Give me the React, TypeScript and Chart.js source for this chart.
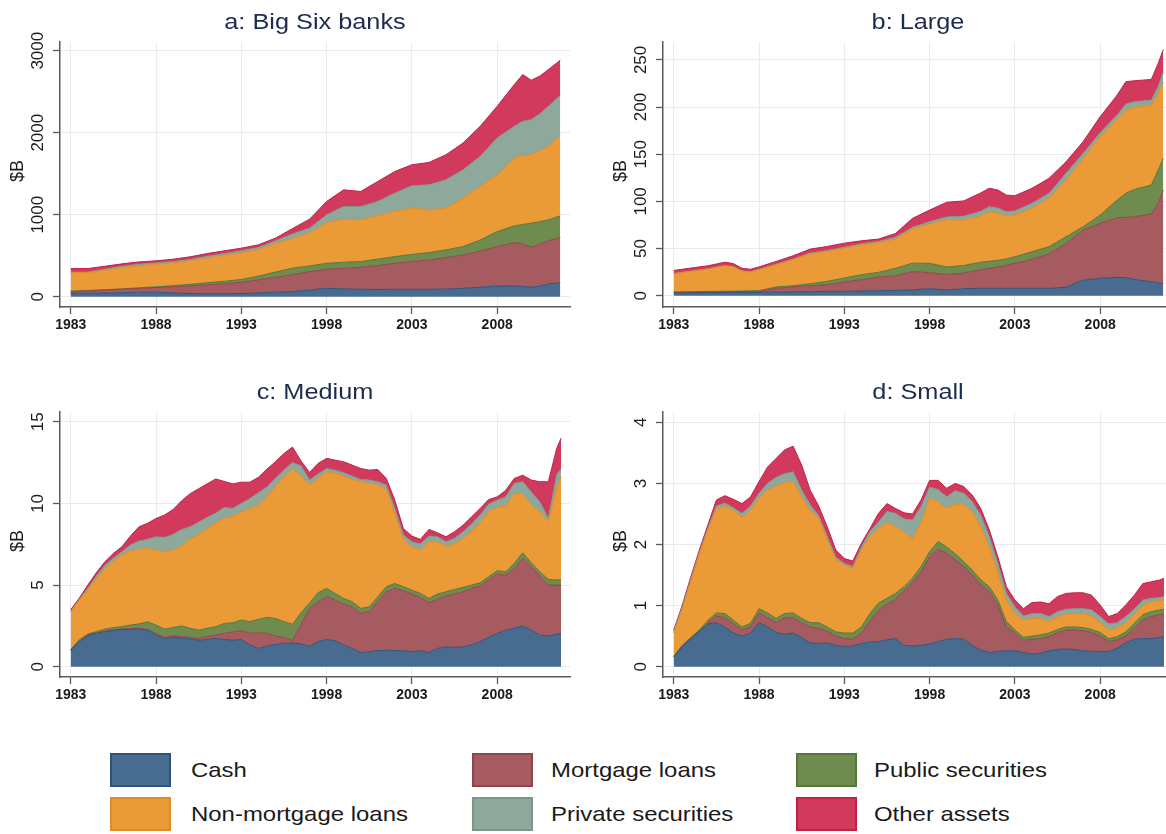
import React, { useEffect, useRef } from "react";
import { Chart, registerables } from "chart.js";

Chart.register(...registerables);

// ---------- shared ----------
const seriesNames = [
  "Cash",
  "Mortgage loans",
  "Public securities",
  "Non-mortgage loans",
  "Private securities",
  "Other assets",
];
const fillColors = ["#476c8f", "#a65b60", "#6f8c4e", "#eb9a38", "#8fa89c", "#d13a5d"];
const edgeColors = ["#2f5378", "#93434b", "#587538", "#e28b22", "#7b978a", "#c21f46"];

const xTickYears = [1983, 1988, 1993, 1998, 2003, 2008];
const X_MIN = 1982.37;
const X_MAX = 2012.27;

// All values in $B. Each array is the upper edge of that layer in the stack
// (cash at the bottom, other assets on top).

// ---------- a: Big Six banks ----------
const yearsA = [1983, 1984, 1985, 1986, 1987, 1988, 1989, 1990, 1991, 1992, 1993, 1994, 1995, 1996, 1997, 1998, 1999, 2000, 2001, 2002, 2003, 2004, 2005, 2006, 2007, 2008, 2009, 2009.5, 2010, 2010.5, 2011, 2011.7];
const aCash = [40, 42, 45, 48, 55, 55, 45, 38, 36, 36, 38, 45, 55, 62, 81, 102, 95, 90, 88, 90, 90, 90, 92, 102, 115, 130, 130, 125, 114, 130, 155, 170];
const aMortgage = [62, 70, 80, 90, 100, 112, 120, 130, 145, 160, 175, 205, 235, 268, 305, 334, 345, 358, 380, 407, 428, 448, 475, 509, 555, 611, 660, 640, 603, 640, 684, 720];
const aPublic = [68, 75, 85, 95, 108, 120, 135, 150, 170, 188, 210, 250, 300, 348, 375, 407, 420, 428, 458, 489, 515, 538, 570, 611, 690, 794, 863, 880, 896, 915, 937, 985];
const aNonMortgage = [294, 294, 322, 355, 375, 396, 412, 437, 473, 506, 534, 575, 649, 710, 774, 904, 945, 937, 986, 1039, 1079, 1059, 1079, 1202, 1344, 1487, 1690, 1719, 1731, 1780, 1833, 1963];
const aPrivate = [300, 299, 335, 372, 395, 412, 428, 453, 494, 526, 559, 600, 681, 765, 835, 998, 1100, 1100, 1161, 1263, 1352, 1364, 1426, 1548, 1711, 1935, 2077, 2138, 2159, 2230, 2322, 2452];
const aOther = [343, 343, 371, 400, 424, 437, 457, 486, 526, 559, 592, 632, 714, 830, 945, 1161, 1303, 1283, 1405, 1527, 1609, 1637, 1731, 1874, 2077, 2322, 2586, 2709, 2640, 2690, 2770, 2884];

// ---------- b: Large ----------
const yearsB = [1983, 1984, 1985, 1986, 1986.5, 1987, 1987.5, 1988, 1989, 1990, 1991, 1992, 1993, 1994, 1995, 1996, 1997, 1998, 1999, 2000, 2001, 2001.5, 2002, 2002.5, 2003, 2004, 2005, 2006, 2007, 2008, 2009, 2009.5, 2010, 2011, 2011.4, 2011.7];
const bCash = [2.8, 3.0, 3.2, 3.3, 3.3, 3.4, 3.4, 3.5, 3.9, 4.2, 4.2, 4.6, 4.6, 4.9, 5.3, 5.5, 6.2, 7.4, 6.0, 7.5, 7.8, 7.8, 7.8, 7.8, 7.8, 7.8, 7.8, 9.0, 16.5, 18.4, 19.4, 19.1, 17.3, 14.8, 13.5, 13.0];
const bMortgage = [3.5, 3.8, 4.0, 4.2, 4.3, 4.4, 4.5, 4.6, 7.8, 9.2, 10.6, 11.6, 14.5, 16.9, 19.8, 21.0, 25.5, 24.4, 22.5, 24.0, 27.5, 29.0, 30.5, 32.0, 34.3, 38.5, 44.2, 55.5, 69.6, 76.7, 82.7, 83.0, 83.7, 86.6, 97.9, 112.0];
const bPublic = [3.9, 4.2, 4.5, 4.7, 4.8, 5.0, 5.1, 5.3, 9.2, 10.6, 12.7, 15.2, 18.7, 22.2, 24.7, 29.0, 34.5, 34.3, 30.5, 32.0, 35.5, 36.5, 37.5, 39.0, 41.3, 46.6, 51.9, 62.5, 73.1, 85.5, 101.4, 108.5, 112.7, 117.3, 133.2, 145.6];
const bNonMortgage = [23.3, 25.7, 28.2, 31.7, 30.5, 26.0, 25.0, 27.5, 32.8, 38.1, 44.4, 46.9, 50.4, 54.0, 56.4, 60.0, 71.0, 76.0, 80.5, 80.2, 84.5, 89.0, 87.5, 84.5, 85.5, 92.6, 103.2, 122.6, 145.6, 168.6, 186.9, 196.8, 199.6, 202.1, 214.5, 226.0];
const bPrivate = [23.6, 26.0, 28.5, 32.0, 30.8, 26.4, 25.4, 28.0, 33.4, 38.8, 45.2, 47.8, 51.3, 55.0, 57.5, 62.0, 72.5, 78.4, 83.5, 84.3, 89.5, 94.3, 93.0, 89.0, 89.8, 97.9, 108.5, 129.7, 150.9, 172.8, 191.5, 203.2, 205.7, 207.4, 221.6, 237.5];
const bOther = [26.8, 29.3, 31.7, 35.5, 34.0, 29.0, 28.0, 30.5, 36.3, 42.3, 49.4, 52.2, 55.7, 58.2, 60.0, 66.0, 82.0, 90.8, 99.0, 100.5, 109.0, 114.0, 112.0, 106.7, 106.0, 113.8, 124.4, 142.0, 163.3, 189.8, 212.7, 226.9, 227.9, 229.3, 246.3, 261.0];

// ---------- c: Medium and d: Small (half-yearly) ----------
const yearsCD = [1983, 1983.5, 1984, 1984.5, 1985, 1985.5, 1986, 1986.5, 1987, 1987.5, 1988, 1988.5, 1989, 1989.5, 1990, 1990.5, 1991, 1991.5, 1992, 1992.5, 1993, 1993.5, 1994, 1994.5, 1995, 1995.5, 1996, 1996.5, 1997, 1997.5, 1998, 1998.5, 1999, 1999.5, 2000, 2000.5, 2001, 2001.5, 2002, 2002.5, 2003, 2003.5, 2004, 2004.5, 2005, 2005.5, 2006, 2006.5, 2007, 2007.5, 2008, 2008.5, 2009, 2009.5, 2010, 2010.5, 2011, 2011.5, 2011.75];

const cCash = [1.0, 1.53, 1.9, 2.04, 2.14, 2.22, 2.28, 2.29, 2.3, 2.25, 1.95, 1.72, 1.8, 1.76, 1.71, 1.63, 1.67, 1.73, 1.67, 1.63, 1.67, 1.33, 1.12, 1.27, 1.37, 1.43, 1.45, 1.4, 1.25, 1.53, 1.67, 1.59, 1.33, 1.12, 0.86, 0.92, 0.98, 1.02, 0.98, 0.98, 0.92, 0.98, 0.86, 1.12, 1.22, 1.18, 1.22, 1.33, 1.53, 1.8, 2.04, 2.24, 2.35, 2.49, 2.24, 1.94, 1.88, 2.0, 2.0];
const cMortgage = [1.02, 1.58, 1.95, 2.08, 2.18, 2.26, 2.3, 2.33, 2.35, 2.28, 2.04, 1.8, 1.9, 1.84, 1.8, 1.73, 1.84, 1.94, 2.04, 2.14, 2.2, 2.04, 2.08, 2.04, 1.88, 1.8, 1.6, 2.6, 3.57, 3.98, 4.29, 4.08, 3.84, 3.67, 3.27, 3.37, 3.98, 4.59, 4.8, 4.65, 4.45, 4.24, 3.92, 4.12, 4.33, 4.45, 4.59, 4.8, 4.94, 5.31, 5.67, 5.61, 6.02, 6.63, 6.12, 5.55, 5.0, 5.0, 5.0];
const cPublic = [1.06, 1.65, 2.0, 2.15, 2.3, 2.4, 2.45, 2.55, 2.62, 2.75, 2.55, 2.3, 2.4, 2.5, 2.35, 2.24, 2.35, 2.45, 2.65, 2.69, 2.86, 2.76, 2.9, 3.02, 2.96, 2.76, 2.6, 3.3, 3.9, 4.53, 4.8, 4.49, 4.18, 3.98, 3.57, 3.67, 4.29, 4.9, 5.1, 4.9, 4.69, 4.49, 4.18, 4.45, 4.59, 4.73, 4.86, 5.0, 5.14, 5.51, 5.88, 5.82, 6.33, 6.98, 6.37, 5.82, 5.35, 5.31, 5.31];
const cNonMortgage = [3.35, 4.08, 4.7, 5.4, 6.0, 6.45, 6.84, 7.1, 7.2, 7.24, 7.14, 7.04, 7.14, 7.4, 7.8, 8.1, 8.45, 8.8, 9.1, 9.2, 9.49, 9.67, 9.9, 10.4, 11.05, 11.6, 12.1, 11.7, 11.12, 11.53, 11.94, 11.84, 11.67, 11.47, 11.33, 11.22, 11.12, 10.9, 9.39, 7.76, 7.35, 7.14, 7.65, 7.65, 7.35, 7.51, 7.86, 8.27, 8.82, 9.49, 9.76, 9.84, 10.6, 10.57, 9.9, 9.49, 8.88, 11.0, 11.6];
const cPrivate = [3.4, 4.12, 4.8, 5.55, 6.2, 6.65, 7.04, 7.45, 7.7, 7.8, 7.96, 7.92, 8.1, 8.4, 8.57, 8.85, 9.15, 9.4, 9.75, 9.7, 10.0, 10.3, 10.65, 11.0, 11.55, 12.05, 12.5, 12.3, 11.43, 11.8, 12.14, 12.04, 11.88, 11.67, 11.47, 11.43, 11.33, 11.12, 9.69, 8.06, 7.65, 7.51, 8.0, 7.96, 7.65, 7.86, 8.27, 8.73, 9.29, 9.96, 10.2, 10.4, 11.22, 11.33, 10.7, 10.1, 9.08, 11.8, 12.1];
const cOther = [3.5, 4.2, 5.0, 5.76, 6.43, 6.94, 7.35, 8.0, 8.57, 8.78, 9.08, 9.29, 9.63, 10.16, 10.6, 10.9, 11.2, 11.5, 11.35, 11.2, 11.3, 11.3, 11.6, 12.1, 12.55, 13.06, 13.45, 12.6, 11.9, 12.45, 12.76, 12.65, 12.55, 12.35, 12.14, 12.04, 12.08, 11.53, 10.2, 8.47, 8.0, 7.8, 8.41, 8.2, 7.96, 8.27, 8.67, 9.18, 9.69, 10.24, 10.4, 10.8, 11.53, 11.73, 11.43, 11.33, 11.33, 13.4, 14.0];

const dCash = [0.16, 0.33, 0.46, 0.58, 0.7, 0.72, 0.65, 0.55, 0.5, 0.55, 0.72, 0.65, 0.56, 0.53, 0.55, 0.48, 0.39, 0.38, 0.39, 0.35, 0.33, 0.34, 0.38, 0.4, 0.41, 0.44, 0.46, 0.35, 0.34, 0.35, 0.37, 0.41, 0.45, 0.46, 0.45, 0.35, 0.27, 0.23, 0.25, 0.26, 0.26, 0.23, 0.21, 0.22, 0.26, 0.28, 0.29, 0.28, 0.26, 0.25, 0.25, 0.25, 0.3, 0.39, 0.45, 0.46, 0.46, 0.48, 0.49];
const dMortgage = [0.16, 0.33, 0.46, 0.58, 0.72, 0.83, 0.8, 0.7, 0.6, 0.65, 0.88, 0.8, 0.72, 0.8, 0.8, 0.72, 0.65, 0.63, 0.58, 0.5, 0.46, 0.45, 0.55, 0.75, 0.92, 1.02, 1.1, 1.25, 1.38, 1.55, 1.8, 1.92, 1.86, 1.75, 1.64, 1.5, 1.34, 1.23, 1.01, 0.65, 0.55, 0.43, 0.45, 0.46, 0.49, 0.56, 0.6, 0.6, 0.59, 0.56, 0.5, 0.41, 0.44, 0.5, 0.63, 0.76, 0.82, 0.85, 0.86];
const dPublic = [0.17, 0.35, 0.48, 0.6, 0.76, 0.88, 0.87, 0.76, 0.65, 0.71, 0.95, 0.88, 0.79, 0.87, 0.88, 0.79, 0.72, 0.72, 0.65, 0.57, 0.55, 0.55, 0.65, 0.87, 1.04, 1.12, 1.2, 1.31, 1.45, 1.64, 1.88, 2.05, 1.96, 1.85, 1.72, 1.58, 1.42, 1.31, 1.09, 0.74, 0.6, 0.48, 0.5, 0.52, 0.55, 0.61, 0.65, 0.65, 0.64, 0.61, 0.56, 0.46, 0.49, 0.57, 0.71, 0.85, 0.9, 0.93, 0.94];
const dNonMortgage = [0.55, 0.95, 1.4, 1.84, 2.24, 2.58, 2.63, 2.56, 2.44, 2.56, 2.76, 2.89, 2.96, 3.01, 3.03, 2.78, 2.56, 2.43, 2.08, 1.76, 1.66, 1.61, 1.91, 2.14, 2.26, 2.36, 2.29, 2.2, 2.1, 2.35, 2.76, 2.7, 2.59, 2.66, 2.65, 2.54, 2.29, 1.96, 1.53, 1.09, 0.87, 0.76, 0.79, 0.79, 0.74, 0.82, 0.86, 0.87, 0.87, 0.83, 0.72, 0.6, 0.63, 0.72, 0.85, 1.01, 1.06, 1.09, 1.1];
const dPrivate = [0.58, 0.98, 1.43, 1.87, 2.27, 2.63, 2.68, 2.6, 2.51, 2.63, 2.84, 3.0, 3.1, 3.16, 3.19, 2.89, 2.65, 2.47, 2.13, 1.79, 1.69, 1.64, 1.96, 2.21, 2.37, 2.54, 2.51, 2.42, 2.4, 2.62, 2.94, 2.9, 2.78, 2.88, 2.84, 2.7, 2.48, 2.13, 1.69, 1.2, 0.98, 0.83, 0.87, 0.87, 0.82, 0.9, 0.94, 0.95, 0.95, 0.93, 0.82, 0.7, 0.72, 0.82, 0.94, 1.09, 1.12, 1.13, 1.15];
const dOther = [0.6, 1.01, 1.47, 1.91, 2.32, 2.73, 2.8, 2.74, 2.67, 2.78, 3.03, 3.27, 3.41, 3.55, 3.61, 3.3, 2.89, 2.63, 2.29, 1.91, 1.77, 1.73, 2.02, 2.26, 2.51, 2.67, 2.59, 2.52, 2.5, 2.73, 3.05, 3.05, 2.92, 3.0, 2.95, 2.81, 2.59, 2.24, 1.8, 1.31, 1.09, 0.95, 1.05, 1.06, 1.03, 1.15, 1.2, 1.21, 1.21, 1.17, 1.01, 0.82, 0.87, 1.01, 1.17, 1.36, 1.39, 1.42, 1.45];

// ---------- panel table ----------
const yTicksA = [0, 1000, 2000, 3000];
const yTicksB = [0, 50, 100, 150, 200, 250];
const yTicksC = [0, 5, 10, 15];
const yTicksD = [0, 1, 2, 3, 4];

const panels = [
  { title: "a: Big Six banks", years: yearsA, series: [aCash, aMortgage, aPublic, aNonMortgage, aPrivate, aOther], yMin: -126, yMax: 3106, yTicks: yTicksA, left: 0, top: 0 },
  { title: "b: Large", years: yearsB, series: [bCash, bMortgage, bPublic, bNonMortgage, bPrivate, bOther], yMin: -12, yMax: 269, yTicks: yTicksB, left: 603, top: 0 },
  { title: "c: Medium", years: yearsCD, series: [cCash, cMortgage, cPublic, cNonMortgage, cPrivate, cOther], yMin: -0.63, yMax: 15.6, yTicks: yTicksC, left: 0, top: 370 },
  { title: "d: Small", years: yearsCD, series: [dCash, dMortgage, dPublic, dNonMortgage, dPrivate, dOther], yMin: -0.169, yMax: 4.17, yTicks: yTicksD, left: 603, top: 370 },
];

const CANVAS_W = 583;
const CANVAS_H = 345;
const GRID = "#e6ecef";
const AXIS = "#5a5a5a";
const TITLE_COLOR = "#1e2b4e";
const FONT = '"Liberation Sans", Arial, Helvetica, sans-serif';

function makeTextPlugin(title: string) {
  return {
    id: "panelText",
    afterDraw(chart: any) {
      const ctx = chart.ctx;
      const area = chart.chartArea;
      const ys = chart.scales.y;
      const xs = chart.scales.x;
      ctx.save();
      // title
      ctx.fillStyle = TITLE_COLOR;
      ctx.font = "22px " + FONT;
      ctx.textAlign = "center";
      ctx.textBaseline = "alphabetic";
      ctx.save();
      ctx.translate((area.left + area.right) / 2, 29);
      ctx.scale(1.15, 1);
      ctx.fillText(title, 0, 0);
      ctx.restore();
      // y tick labels (vertical)
      ctx.fillStyle = "#1a1a1a";
      ctx.font = "17px " + FONT;
      for (const t of ys.ticks) {
        const y = ys.getPixelForValue(t.value);
        ctx.save();
        ctx.translate(38, y);
        ctx.rotate(-Math.PI / 2);
        ctx.textAlign = "center";
        ctx.textBaseline = "middle";
        ctx.fillText(String(t.value), 0, 0);
        ctx.restore();
      }
      // axis title
      ctx.save();
      ctx.font = "18px " + FONT;
      ctx.translate(18, 171);
      ctx.rotate(-Math.PI / 2);
      ctx.textAlign = "center";
      ctx.textBaseline = "middle";
      ctx.fillText("$B", 0, 0);
      ctx.restore();
      // x tick labels
      ctx.font = "bold 14px " + FONT;
      ctx.textAlign = "center";
      ctx.textBaseline = "middle";
      for (const t of xs.ticks) {
        const x = xs.getPixelForValue(t.value);
        ctx.fillText(String(t.value), x, 325);
      }
      ctx.restore();
    },
  };
}

function Panel({ spec }: { spec: any }) {
  const ref = useRef<HTMLCanvasElement | null>(null);
  useEffect(() => {
    if (!ref.current) return;
    const datasets = spec.series.map((vals: number[], i: number) => ({
      label: seriesNames[i],
      data: spec.years.map((x: number, k: number) => ({ x, y: vals[k] })),
      backgroundColor: fillColors[i],
      borderColor: edgeColors[i],
      borderWidth: 1,
      pointRadius: 0,
      tension: 0,
      fill: i === 0 ? "origin" : "-1",
    }));
    const chart = new Chart(ref.current, {
      type: "line",
      data: { datasets },
      options: {
        animation: false,
        responsive: false,
        maintainAspectRatio: false,
        events: [],
        layout: { padding: { left: 0, right: 13, top: 42, bottom: 0 } },
        plugins: {
          legend: { display: false },
          tooltip: { enabled: false },
          title: { display: false },
        },
        scales: {
          x: {
            type: "linear",
            min: X_MIN,
            max: X_MAX,
            afterBuildTicks: (s: any) => {
              s.ticks = xTickYears.map((v) => ({ value: v }));
            },
            afterFit: (s: any) => {
              s.height = 38;
            },
            ticks: { display: false },
            grid: { color: GRID, tickColor: AXIS, tickLength: 7, lineWidth: 1, tickWidth: 1.3 },
            border: { display: true, color: AXIS, width: 1.5 },
          },
          y: {
            type: "linear",
            min: spec.yMin,
            max: spec.yMax,
            afterBuildTicks: (s: any) => {
              s.ticks = spec.yTicks.map((v: number) => ({ value: v }));
            },
            afterFit: (s: any) => {
              s.width = 60;
            },
            ticks: { display: false },
            grid: { color: GRID, tickColor: AXIS, tickLength: 7, lineWidth: 1, tickWidth: 1.3 },
            border: { display: true, color: AXIS, width: 1.5 },
          },
        },
      } as any,
      plugins: [makeTextPlugin(spec.title)],
    });
    return () => chart.destroy();
  }, [spec]);
  return (
    <canvas
      ref={ref}
      width={CANVAS_W}
      height={CANVAS_H}
      style={{ position: "absolute", left: spec.left, top: spec.top, width: CANVAS_W, height: CANVAS_H }}
    />
  );
}

const legendBoxX = [110, 472, 796];
const legendTextX = [191, 551, 874];
const legendRowY = [753, 797];

export default function App() {
  return (
    <div
      style={{
        position: "fixed",
        left: 0,
        top: 0,
        width: 1166,
        height: 834,
        overflow: "hidden",
        background: "#ffffff",
      }}
    >
      {panels.map((p) => (
        <Panel key={p.title} spec={p} />
      ))}
      {seriesNames.map((name, i) => {
        const col = i % 3;
        const row = Math.floor(i / 3);
        return (
          <React.Fragment key={name}>
            <div
              style={{
                position: "absolute",
                left: legendBoxX[col],
                top: legendRowY[row],
                width: 61,
                height: 34,
                boxSizing: "border-box",
                background: fillColors[i],
                border: "2px solid " + edgeColors[i],
              }}
            />
            <div
              style={{
                position: "absolute",
                left: legendTextX[col],
                top: legendRowY[row] + 17,
                transform: "translateY(-50%) scaleX(1.14)",
                transformOrigin: "left center",
                font: "21px " + FONT,
                color: "#1a1a1a",
                whiteSpace: "nowrap",
                lineHeight: "24px",
              }}
            >
              {name}
            </div>
          </React.Fragment>
        );
      })}
    </div>
  );
}
